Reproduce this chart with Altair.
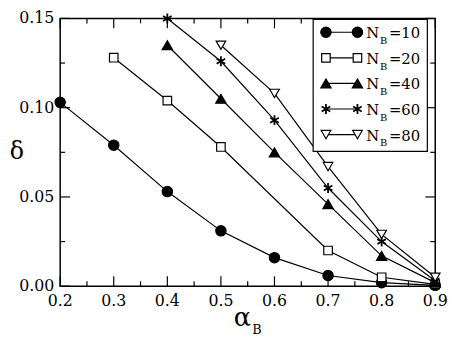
import altair as alt
import pandas as pd

# ---- data ----
a10 = [0.2, 0.3, 0.4, 0.5, 0.6, 0.7, 0.8, 0.9]
d10 = [0.103, 0.079, 0.053, 0.031, 0.016, 0.006, 0.002, 0.0005]
a20 = [0.3, 0.4, 0.5, 0.7, 0.8, 0.9]
d20 = [0.128, 0.104, 0.078, 0.020, 0.005, 0.001]
a40 = [0.4, 0.5, 0.6, 0.7, 0.8, 0.9]
d40 = [0.135, 0.105, 0.075, 0.046, 0.017, 0.002]
a60 = [0.4, 0.5, 0.6, 0.7, 0.8, 0.9]
d60 = [0.150, 0.126, 0.093, 0.055, 0.025, 0.003]
a80 = [0.5, 0.6, 0.7, 0.8, 0.9]
d80 = [0.135, 0.108, 0.067, 0.029, 0.005]

labels = ["10", "20", "40", "60", "80"]
x_major = [0.2, 0.3, 0.4, 0.5, 0.6, 0.7, 0.8, 0.9]
x_minor = [0.25, 0.35, 0.45, 0.55, 0.65, 0.75, 0.85]
y_major = [0.0, 0.05, 0.10, 0.15]
y_minor = [0.025, 0.075, 0.125]

W, H = 381, 272
TOP = 8
FONT = "DejaVu Serif"
FS = 16
ASTER = "M0,-1L0,1M-0.866,-0.5L0.866,0.5M-0.866,0.5L0.866,-0.5"

styles = [
    dict(shape="circle", filled=True, size=110, sw=1.2),
    dict(shape="square", filled=False, size=75, sw=1.2),
    dict(shape="triangle-up", filled=True, size=110, sw=1.2),
    dict(shape=ASTER, filled=False, size=100, sw=1.8),
    dict(shape="triangle-down", filled=False, size=95, sw=1.2),
]

xs = alt.Scale(domain=[0.2, 0.9], nice=False)
ys = alt.Scale(domain=[0, 0.15], nice=False)


def X(f="a"):
    return alt.X(f + ":Q", scale=xs, axis=None)


def Y(f="d"):
    return alt.Y(f + ":Q", scale=ys, axis=None)


series = [(a10, d10), (a20, d20), (a40, d40), (a60, d60), (a80, d80)]

layers = []

# tick labels as text marks
xl = pd.DataFrame({"a": x_major})
layers.append(alt.Chart(xl).mark_text(font=FONT, fontSize=FS, align="center", baseline="alphabetic",
                                      color="black").encode(
    x=X(), y=alt.value(H + 20), text=alt.Text("a:Q", format=".1f")))
yl = pd.DataFrame({"d": y_major})
layers.append(alt.Chart(yl).mark_text(font=FONT, fontSize=FS, align="right", baseline="middle",
                                      color="black").encode(
    y=Y(), x=alt.value(-6), text=alt.Text("d:Q", format=".2f")))


# tick marks (inward)
def xticks(vals, length):
    df = pd.DataFrame({"a": vals})
    bot = alt.Chart(df).mark_rule(color="black", strokeWidth=1.2).encode(
        x=X(), y=alt.value(H), y2=alt.value(H - length))
    top = alt.Chart(df).mark_rule(color="black", strokeWidth=1.2).encode(
        x=X(), y=alt.value(0), y2=alt.value(length))
    return [bot, top]


def yticks(vals, length):
    df = pd.DataFrame({"d": vals})
    left = alt.Chart(df).mark_rule(color="black", strokeWidth=1.2).encode(
        y=Y(), x=alt.value(0), x2=alt.value(length))
    right = alt.Chart(df).mark_rule(color="black", strokeWidth=1.2).encode(
        y=Y(), x=alt.value(W), x2=alt.value(W - length))
    return [left, right]


layers += xticks(x_major, 10) + xticks(x_minor, 5) + yticks(y_major, 10) + yticks(y_minor, 5)

# series lines and markers
for (xa, yd), st in zip(series, styles):
    df = pd.DataFrame({"a": xa, "d": yd})
    line = alt.Chart(df).mark_line(color="black", strokeWidth=1.2).encode(x=X(), y=Y())
    pt = alt.Chart(df).mark_point(
        shape=st["shape"], size=st["size"], filled=st["filled"],
        fill="black" if st["filled"] else "white", fillOpacity=1,
        stroke="black", strokeWidth=st["sw"], opacity=1).encode(x=X(), y=Y())
    layers += [line, pt]

# legend
dummy = pd.DataFrame({"k": [0]})
layers.append(alt.Chart(dummy).mark_rect(fill="white", stroke="black", strokeWidth=1.2).encode(
    x=alt.value(257), x2=alt.value(373), y=alt.value(1), y2=alt.value(135)))
row_y = [14, 40, 66, 92, 118]
for lab, st, ry in zip(labels, styles, row_y):
    layers.append(alt.Chart(dummy).mark_rule(color="black", strokeWidth=1.2).encode(
        x=alt.value(270), x2=alt.value(302), y=alt.value(ry)))
    for px in (270, 302):
        layers.append(alt.Chart(dummy).mark_point(
            shape=st["shape"], size=st["size"], filled=st["filled"],
            fill="black" if st["filled"] else "white", fillOpacity=1,
            stroke="black", strokeWidth=st["sw"], opacity=1).encode(
            x=alt.value(px), y=alt.value(ry)))
    layers.append(alt.Chart(dummy).mark_text(text="N", font=FONT, fontSize=15, align="left",
                                             baseline="alphabetic", color="black").encode(
        x=alt.value(311), y=alt.value(ry + 6)))
    layers.append(alt.Chart(dummy).mark_text(text="B", font=FONT, fontSize=10, align="left",
                                             baseline="alphabetic", color="black").encode(
        x=alt.value(325), y=alt.value(ry + 12)))
    layers.append(alt.Chart(dummy).mark_text(text="=" + lab, font=FONT, fontSize=15, align="left",
                                             baseline="alphabetic", color="black").encode(
        x=alt.value(334), y=alt.value(ry + 6)))

# axis titles
layers.append(alt.Chart(dummy).mark_text(text="δ", font=FONT, fontSize=24, align="center",
                                         baseline="alphabetic", color="black").encode(
    x=alt.value(-44), y=alt.value(143)))
layers.append(alt.Chart(dummy).mark_text(text="α", font=FONT, fontSize=26, align="center",
                                         baseline="alphabetic", color="black").encode(
    x=alt.value(185), y=alt.value(312)))
layers.append(alt.Chart(dummy).mark_text(text="B", font=FONT, fontSize=13, align="left",
                                         baseline="alphabetic", color="black").encode(
    x=alt.value(195), y=alt.value(321)))

chart = alt.layer(*layers).properties(
    width=W, height=H,
    autosize=alt.AutoSizeParams(type="none"),
    padding={"left": 53, "top": TOP, "right": 14, "bottom": 50},
    background="white",
).configure_view(stroke="black", strokeWidth=1.5)

chart.save("out.html", embed_options={"renderer": "svg", "actions": False})
